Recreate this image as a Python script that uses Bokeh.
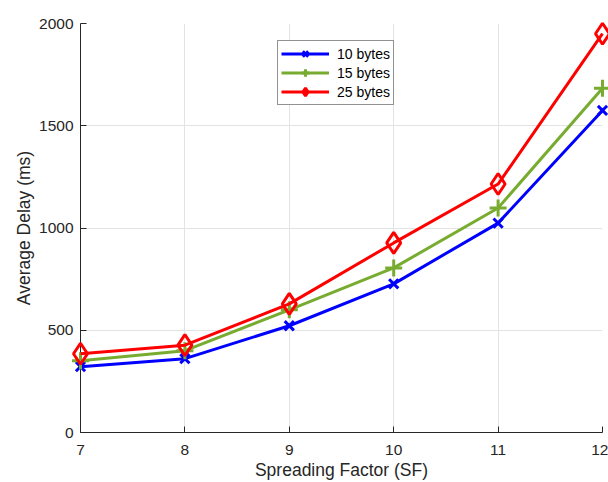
from bokeh.plotting import figure
from bokeh.models import Legend, LegendItem, FixedTicker, Range1d
from bokeh.embed import file_html
from bokeh.resources import INLINE

sf = [7, 8, 9, 10, 11, 12]
delay_10 = [322, 361, 522, 727, 1024, 1575]
delay_15 = [351, 400, 600, 805, 1098, 1683]
delay_25 = [385, 427, 629, 927, 1215, 1950]
x_ticks = [7, 8, 9, 10, 11, 12]
y_ticks = [0, 500, 1000, 1500, 2000]

TXT = "#262626"
FONT = "Liberation Sans"

p = figure(width=608, height=482, output_backend="svg", toolbar_location=None,
           x_range=Range1d(7, 12), y_range=Range1d(0, 2000),
           min_border_left=80, min_border_right=6, min_border_top=23, min_border_bottom=49)
p.outline_line_color = None
p.background_fill_color = "white"
p.border_fill_color = "white"

for ax in (p.xaxis[0], p.yaxis[0]):
    ax.axis_line_color = TXT
    ax.axis_line_width = 1
    ax.major_tick_line_color = TXT
    ax.major_tick_in = 6
    ax.major_tick_out = 0
    ax.minor_tick_line_color = None
    ax.major_label_text_font = FONT
    ax.major_label_text_font_size = "15.5px"
    ax.major_label_text_color = TXT
    ax.axis_label_text_font = FONT
    ax.axis_label_text_font_size = "17.5px"
    ax.axis_label_text_font_style = "normal"
    ax.axis_label_text_color = TXT

p.xaxis.ticker = FixedTicker(ticks=x_ticks)
p.yaxis.ticker = FixedTicker(ticks=y_ticks)
p.xaxis.axis_label = "Spreading Factor (SF)"
p.yaxis.axis_label = "Average Delay (ms)"
p.xaxis.major_label_standoff = 12
p.yaxis.major_label_standoff = 7
p.xaxis.axis_label_standoff = 2
p.yaxis.axis_label_standoff = 2

p.xgrid.ticker = FixedTicker(ticks=x_ticks)
p.ygrid.ticker = FixedTicker(ticks=y_ticks)
for g in (p.xgrid[0], p.ygrid[0]):
    g.grid_line_color = "#e3e3e3"
    g.grid_line_width = 1

series = [
    ("10 bytes", delay_10, "#0000ff", "x", 13),
    ("15 bytes", delay_15, "#77ac30", "cross", 17),
    ("25 bytes", delay_25, "#ff0000", "diamond", 21),
]
items = []
for label, ys, color, marker, size in series:
    l = p.line(sf, ys, line_color=color, line_width=3, level="overlay")
    s = p.scatter(sf, ys, marker=marker, size=size, line_color=color, line_width=3,
                  fill_alpha=0, level="overlay")
    items.append(LegendItem(label=label, renderers=[l, s]))

legend = Legend(items=items, location=(197, 327))
legend.label_text_font = FONT
legend.label_text_font_size = "14px"
legend.label_text_color = "black"
legend.glyph_width = 48
legend.glyph_height = 19
legend.label_height = 19
legend.spacing = 0
legend.padding = 3
legend.margin = 0
legend.label_standoff = 8
legend.border_line_color = TXT
legend.border_line_width = 1
legend.background_fill_color = "white"
legend.background_fill_alpha = 1
p.add_layout(legend, "center")

open("out.html", "w").write(file_html(p, INLINE))
